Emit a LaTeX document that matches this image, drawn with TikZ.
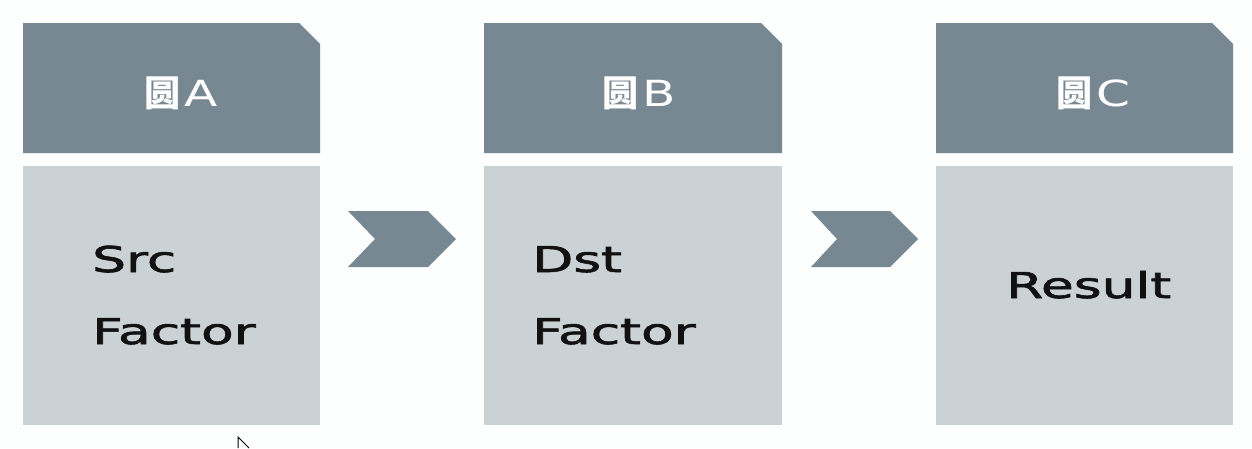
\documentclass[tikz,border=0pt]{standalone}
\usepackage{fontspec}
\setmainfont{DejaVu Sans}
\newfontfamily\bodyfont{DejaVu Sans}[FakeBold=1.6]
\newfontfamily\cjkfont{Noto Sans CJK SC}
\usepackage{graphicx}
\definecolor{headgray}{RGB}{120,136,146}
\definecolor{bodygray}{RGB}{203,210,214}
\definecolor{bgwhite}{RGB}{253,254,254}
\definecolor{txtblack}{RGB}{17,17,17}
\newcommand{\widetxt}[1]{\scalebox{1.5}[1]{#1}}
\newcommand{\headtxt}[2]{{\cjkfont\bfseries #1}\hspace{4pt}\scalebox{1.35}[1]{#2}}
\tikzset{
  headshape/.style={fill=headgray, draw=none},
  bodyshape/.style={fill=bodygray, draw=none},
  chevronshape/.style={fill=headgray, draw=none},
  headlabel/.style={text=white, font=\fontsize{36}{36}\selectfont, inner sep=0pt, anchor=base},
  bodylabel/.style={text=txtblack, font=\bodyfont\fontsize{35.6}{36}\selectfont, inner sep=0pt, anchor=base west},
}
\begin{document}
\begin{tikzpicture}[x=1pt,y=-1pt]
\fill[bgwhite] (0,0) rectangle (1252,448);
\useasboundingbox (0,0) rectangle (1252,448);
% box 1
\fill[headshape] (23,23) -- (299,23) -- (320,44) -- (320,153) -- (23,153) -- cycle;
\fill[bodyshape] (23,166) rectangle (320,425);
% box 2
\fill[headshape] (484,23) -- (761,23) -- (782,44) -- (782,153) -- (484,153) -- cycle;
\fill[bodyshape] (484,166) rectangle (782,425);
% box 3
\fill[headshape] (936,23) -- (1212,23) -- (1233,44) -- (1233,153) -- (936,153) -- cycle;
\fill[bodyshape] (936,166) rectangle (1233,425);
% chevrons
\fill[chevronshape] (348,211) -- (428,211) -- (456,239) -- (428,267) -- (348,267) -- (375,239) -- cycle;
\fill[chevronshape] (811,211) -- (890,211) -- (918,239) -- (890,267) -- (811,267) -- (837,239) -- cycle;
% header labels
\node[headlabel] (hA) at (181.5,106) {\headtxt{圆}{A}};
\node[headlabel] (hB) at (639,106) {\headtxt{圆}{B}};
\node[headlabel] (hC) at (1093.5,106) {\headtxt{圆}{C}};
% body labels
\node[bodylabel] (src) at (92,272) {\widetxt{Src}};
\node[bodylabel] (srcf) at (92,344) {\widetxt{Factor}};
\node[bodylabel] (dst) at (532,272) {\widetxt{Dst}};
\node[bodylabel] (dstf) at (532,344) {\widetxt{Factor}};
\node[bodylabel] (res) at (1006,298) {\widetxt{Result}};
% mouse cursor
\coordinate (ctip) at (238,437);
\coordinate (cl) at (238,448);
\coordinate (cr) at (249,448);
\fill[white] (ctip) -- (cl) -- (cr) -- cycle;
\draw[black, line width=1pt] (cl) -- (ctip) -- (cr);
\end{tikzpicture}
\end{document}
